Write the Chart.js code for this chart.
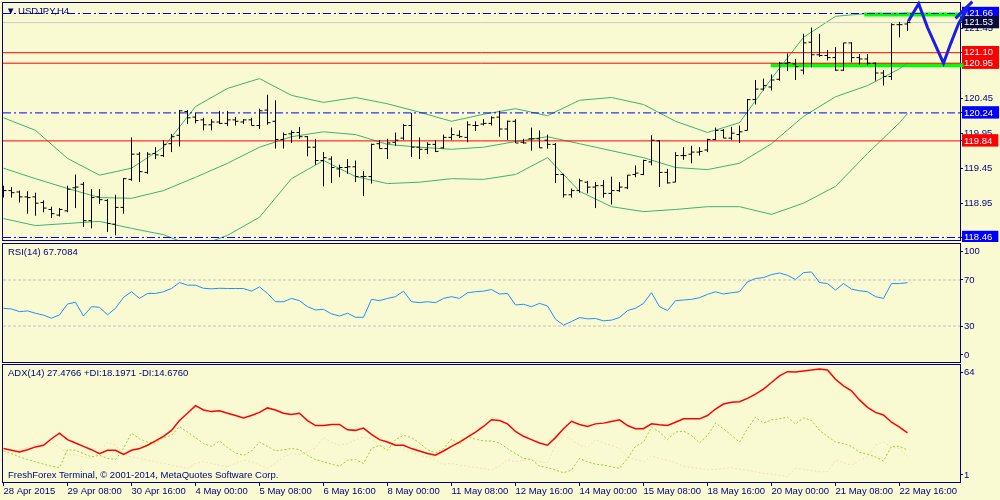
<!DOCTYPE html>
<html>
<head>
<meta charset="utf-8">
<script src="https://cdn.jsdelivr.net/npm/chart.js@4.4.1/dist/chart.umd.min.js"></script>
<style>
  html, body { margin: 0; padding: 0; background: #FAFAD2; }
  #wrap { position: relative; width: 1000px; height: 500px; overflow: hidden; font-family: "Liberation Sans", Arial, sans-serif; }
  canvas { position: absolute; left: 0; }
  .label { position: absolute; font-size: 9.5px; line-height: 12px; color: #000080; white-space: nowrap; }
</style>
</head>
<body>
<div id="wrap">
  <canvas id="price" width="1000" height="242" style="top:0"></canvas>
  <canvas id="rsi" width="1000" height="121" style="top:242px"></canvas>
  <canvas id="adx" width="1000" height="137" style="top:363px"></canvas>
  <div class="label" style="left:6px;top:5px">▼ USDJPY,H4</div>
  <div class="label" style="left:8px;top:246px">RSI(14) 67.7084</div>
  <div class="label" style="left:8px;top:367px">ADX(14) 27.4766 +DI:18.1971 -DI:14.6760</div>
  <div class="label" style="left:8px;top:469px">FreshForex Terminal, © 2001-2014, MetaQuotes Software Corp.</div>
</div>
<script>
// USDJPY H4 bars, 28 Apr 00:00 .. 22 May 20:00 (one entry per bar)
const opens = [119.14,119.13,119.11,119.04,119.04,118.96,118.86,118.78,118.84,119.17,
  119.22,118.70,119.04,118.99,118.65,118.89,119.29,119.65,119.39,119.66,
  119.63,119.80,119.92,120.26,120.18,120.14,120.07,120.11,120.09,120.14,
  120.11,120.14,120.06,120.28,120.12,119.86,119.94,119.96,119.90,119.75,
  119.56,119.58,119.44,119.46,119.47,119.33,119.33,119.80,119.73,119.82,
  119.88,120.06,119.75,119.72,119.79,119.74,119.89,119.92,119.89,120.06,
  120.08,120.09,120.18,120.01,120.12,119.82,119.87,119.87,119.85,119.79,
  119.36,119.07,119.13,119.25,119.18,119.20,119.09,119.13,119.17,119.36,
  119.36,119.54,119.84,119.39,119.25,119.63,119.65,119.68,119.71,119.86,
  119.99,119.88,119.93,119.99,120.43,120.58,120.61,120.72,120.95,120.94,
  120.85,121.25,121.07,121.06,121.03,120.85,121.24,121.03,121.01,120.95,
  120.81,120.76,121.50,121.51];
const highs = [119.20,119.18,119.13,119.12,119.10,118.99,118.90,118.88,119.20,119.36,
  119.25,119.15,119.15,119.01,119.07,119.31,119.89,119.68,119.68,119.75,
  119.85,119.94,120.28,120.28,120.24,120.17,120.15,120.27,120.27,120.18,
  120.15,120.17,120.30,120.50,120.42,119.96,119.99,120.04,119.91,119.87,
  119.68,119.62,119.50,119.58,119.56,119.41,119.80,119.85,119.87,119.96,
  120.08,120.24,119.89,119.82,119.85,119.93,120.03,119.99,120.12,120.12,
  120.15,120.19,120.27,120.13,120.15,119.87,120.03,119.99,119.93,119.81,
  119.37,119.16,119.30,119.27,119.25,119.28,119.33,119.25,119.35,119.49,
  119.57,119.92,119.85,119.44,119.68,119.75,119.77,119.75,119.87,120.03,
  120.01,120.04,120.06,120.44,120.71,120.73,120.79,120.97,121.09,121.01,
  121.37,121.46,121.37,121.14,121.18,121.24,121.25,121.08,121.08,120.96,
  120.85,121.52,121.54,121.55];
const lows = [119.03,119.03,118.96,118.80,118.77,118.82,118.74,118.76,118.82,118.88,
  118.61,118.59,118.94,118.54,118.49,118.80,119.27,119.25,119.37,119.58,
  119.61,119.68,119.76,120.08,120.09,119.99,119.99,120.08,120.05,120.06,
  120.08,120.06,120.01,120.07,119.73,119.73,119.81,119.87,119.62,119.50,
  119.19,119.24,119.32,119.37,119.25,119.05,119.23,119.73,119.58,119.77,
  119.85,119.61,119.58,119.65,119.68,119.73,119.85,119.88,119.82,119.98,
  120.06,120.06,119.90,119.85,119.81,119.80,119.70,119.74,119.73,119.24,
  119.03,119.03,119.10,119.09,118.88,119.03,118.93,119.11,119.15,119.32,
  119.35,119.49,119.18,119.23,119.25,119.57,119.52,119.63,119.68,119.85,
  119.88,119.85,119.81,119.99,120.36,120.56,120.56,120.70,120.84,120.71,
  120.79,120.89,121.04,120.99,120.84,120.84,120.96,120.93,120.92,120.70,
  120.63,120.71,121.32,121.41];
const closes = [119.13,119.10,119.04,119.03,118.95,118.88,118.80,118.86,119.15,119.18,
  118.70,119.03,119.00,118.66,118.89,119.30,119.65,119.40,119.65,119.64,
  119.79,119.90,120.27,120.17,120.13,120.07,120.11,120.09,120.14,120.12,
  120.14,120.06,120.27,120.10,119.86,119.93,119.96,119.90,119.75,119.56,
  119.60,119.46,119.46,119.47,119.33,119.33,119.79,119.73,119.81,119.85,
  120.06,119.75,119.72,119.79,119.69,119.89,119.93,119.90,120.07,120.06,
  120.09,120.17,120.01,120.12,119.81,119.81,119.87,119.74,119.79,119.36,
  119.07,119.13,119.27,119.18,119.20,119.09,119.13,119.18,119.35,119.38,
  119.56,119.85,119.39,119.24,119.63,119.63,119.68,119.69,119.86,119.99,
  119.88,119.95,119.97,120.43,120.58,120.63,120.71,120.95,120.96,120.90,
  121.24,121.07,121.06,121.03,120.85,121.24,121.03,121.01,120.95,120.81,
  120.76,121.50,121.50,121.53];

// Bollinger bands read every 4th bar
const bandIndex = [0,4,8,12,16,20,24,28,32,36,40,44,48,52,56,60,64,68,72,76,80,84,88,92,96,100,104,108,112,113];
const bbUpper = [120.17,119.99,119.59,119.35,119.45,119.75,120.33,120.59,120.73,120.49,120.39,120.46,120.37,120.25,120.12,
  120.22,120.30,120.20,120.42,120.46,120.36,120.12,119.96,120.10,120.73,121.32,121.62,121.66,121.65,121.67];
const bbMiddle = [119.45,119.30,119.16,119.03,119.02,119.13,119.32,119.52,119.75,119.90,119.97,119.93,119.79,119.75,119.72,
  119.75,119.83,119.90,119.80,119.70,119.60,119.46,119.43,119.52,119.80,120.19,120.47,120.63,120.87,120.95];
const bbLower = [118.73,118.63,118.66,118.69,118.59,118.50,118.32,118.49,118.75,119.30,119.56,119.33,119.23,119.25,119.30,
  119.29,119.36,119.60,119.12,118.90,118.83,118.86,118.90,118.90,118.79,118.95,119.19,119.66,120.10,120.23];

const rsiValues = [45.4,44.8,42.5,43.1,41.1,39.4,36.8,39.7,49.1,50.6,
  38.7,46.8,46.3,39.7,45.4,54.9,59.8,54.0,58.3,58.3,
  59.8,62.6,67.8,65.5,65.5,62.8,62.3,62.8,62.6,62.6,
  62.6,60.3,64.0,58.3,51.1,51.1,54.0,52.0,46.8,43.9,
  44.5,40.5,38.7,41.1,37.6,37.6,53.2,52.0,54.0,55.5,
  60.3,51.1,50.3,51.1,50.3,54.0,55.5,54.0,58.9,59.8,
  60.3,61.7,57.8,58.3,48.3,48.9,46.8,49.7,47.4,35.9,
  30.8,33.9,37.4,36.2,36.5,34.5,35.1,37.4,43.4,45.4,
  49.7,58.9,46.8,43.4,52.0,52.6,53.2,54.6,57.5,59.8,
  57.8,58.9,59.8,68.4,71.3,72.1,74.7,76.1,74.1,70.4,
  76.4,77.0,67.8,66.9,61.2,66.9,62.1,60.6,59.8,55.5,
  54.0,66.9,66.9,67.7];

const adxValues = [19.0,18.1,17.2,18.4,19.9,20.8,24.3,27.3,23.8,22.0,
  20.2,18.4,16.3,18.1,18.1,15.9,18.1,19.0,20.8,23.1,
  25.6,28.8,34.1,38.0,42.1,39.8,38.9,39.4,38.0,36.8,
  35.5,36.8,38.5,40.9,39.8,38.0,37.3,38.0,34.1,31.4,
  31.4,32.0,32.0,29.1,28.8,30.0,26.6,23.8,22.5,20.8,
  20.8,19.0,17.7,16.3,15.4,17.7,20.2,22.5,25.2,27.9,
  30.9,34.5,34.1,32.3,28.2,25.6,23.8,22.0,20.8,24.9,
  29.7,33.7,32.0,30.9,32.3,32.7,33.6,34.5,31.4,29.7,
  29.7,32.3,31.8,31.4,33.2,35.0,35.0,35.0,36.8,40.3,
  43.0,43.9,44.2,46.0,48.3,51.0,54.6,58.1,60.4,60.2,
  60.8,61.3,61.9,61.3,56.3,52.8,50.1,45.2,41.2,38.5,
  37.1,33.2,30.5,27.5];
const plusDI = [17.7,16.3,14.5,13.1,11.9,10.6,9.5,8.8,18.4,18.1,
  16.3,14.5,15.4,13.7,13.1,19.0,27.3,24.3,22.5,22.0,
  24.9,26.1,30.9,27.9,24.9,21.7,20.2,23.1,19.5,16.6,
  15.4,17.7,22.5,20.2,17.7,18.4,19.0,18.4,15.4,13.1,
  11.9,10.6,9.5,12.7,13.1,11.0,19.0,20.8,18.1,23.8,
  26.1,24.9,22.0,18.4,16.6,19.0,24.1,21.3,25.2,24.1,
  23.1,23.1,22.0,19.0,16.3,13.7,13.1,9.5,8.8,7.4,
  6.0,7.4,13.7,11.9,10.6,10.1,9.2,8.3,13.7,20.2,
  22.5,30.5,27.9,23.8,27.9,28.4,26.1,22.0,26.1,32.7,
  29.7,26.1,22.5,29.7,35.9,32.7,34.5,35.0,35.9,32.3,
  35.5,34.1,28.8,25.6,22.5,21.7,20.2,17.0,15.9,14.5,
  12.3,20.2,20.2,18.2];
const minusDI = [16.3,15.4,18.1,19.5,20.8,21.3,22.5,19.5,16.3,15.4,
  14.5,13.7,17.2,22.5,20.8,16.3,14.5,13.7,12.7,11.9,
  11.0,10.1,9.2,8.3,11.0,11.9,11.0,10.1,9.2,11.0,
  12.7,11.9,10.1,8.3,11.0,14.5,16.3,15.9,17.2,19.5,
  24.9,22.5,20.8,21.7,23.8,25.2,24.1,20.8,19.9,22.0,
  18.4,17.2,15.4,14.5,12.7,10.6,11.0,10.1,9.5,8.8,
  8.3,7.4,9.5,13.1,11.9,12.7,13.1,11.9,11.4,20.8,
  26.1,23.8,20.8,19.5,23.8,22.0,20.8,19.0,14.5,13.1,
  11.9,15.0,13.7,12.7,11.4,9.5,8.8,8.3,7.4,7.8,
  8.3,8.8,7.8,7.4,6.5,5.6,5.3,4.7,3.8,8.3,
  7.8,7.1,6.5,6.5,12.7,11.4,10.1,12.7,14.5,20.8,
  22.5,19.9,19.0,14.7];

const xTickIndex = [0,8,16,24,32,40,48,56,64,72,80,88,96,104,112];
const xTickLabels = ['28 Apr 2015','29 Apr 08:00','30 Apr 16:00','4 May 00:00','5 May 08:00','6 May 16:00',
  '8 May 00:00','11 May 08:00','12 May 16:00','14 May 00:00','15 May 08:00','18 May 16:00',
  '20 May 00:00','21 May 08:00','22 May 16:00'];

const priceTicks = [121.45, 120.45, 119.95, 119.45, 118.95];
const levelPrices = [121.66, 121.53, 121.10, 120.95, 120.24, 119.84, 118.46];
const levelKinds = ['blue', 'bid', 'red', 'red', 'blue', 'red', 'blue'];
const rsiLevels = [70, 30];
const rsiTickValues = [100, 70, 30, 0];
const adxTickValues = [64, 1];

// drawn objects: support zones and the forecast sketch
const zoneStart = [107.6, 95.9];
const zoneEnd = [119.8, 120.0];
const zonePrice = [121.645, 120.92];
const sketchX = [113.1, 114.4, 115.5, 116.25, 117.5, 118.4, 119.4, 120.5, 121.3];
const sketchY = [121.55, 121.80, 121.46, 121.27, 120.95, 121.23, 121.52, 121.73, 121.86];
const sketch2X = [119.0, 121.1];
const sketch2Y = [121.59, 121.83];

const navy = '#000080';
const FONT = { family: 'Liberation Sans', size: 9.5 };
const X_MIN = -0.0625, X_MAX = 119.5625;
const TICK = 3 / 8;
const levelColor = { blue: '#0000FF', red: '#FF0000', bid: '#C8C8C8' };
const boxColor = { blue: '#0000FF', red: '#FF0000', bid: '#0A0A3A' };

function line(data, color, width, extra) {
    return Object.assign({
        data: data, borderColor: color, borderWidth: width,
        pointRadius: 0, tension: 0, fill: false
    }, extra || {});
}
const series = values => values.map((v, i) => ({ x: i, y: v }));
const pairs = (xs, ys) => xs.map((x, i) => ({ x: x, y: ys[i] }));
const hline = y => [{ x: X_MIN, y: y }, { x: X_MAX, y: y }];

function fitRight(scale) {
    scale.width = 40;
    scale.paddingTop = 0;
    scale.paddingBottom = 0;
}

function inside(v, min, max) {
    const m = (max - min) * 0.06;
    return Math.min(max - m, Math.max(min + m, v));
}

function xScale(show) {
    const s = {
        type: 'linear', min: X_MIN, max: X_MAX, display: show,
        afterBuildTicks: scale => { scale.ticks = xTickIndex.map(v => ({ value: v })); },
        ticks: {
            autoSkip: false, maxRotation: 0, align: 'start', padding: 0,
            color: navy, font: FONT, callback: (v, i) => xTickLabels[i]
        },
        grid: { drawOnChartArea: false, drawTicks: true, tickLength: 4, color: navy },
        border: { display: false }
    };
    if (show) {
        s.afterFit = scale => { scale.height = 18; scale.paddingLeft = 0; scale.paddingRight = 0; };
    }
    return s;
}

function indicatorY(min, max, values) {
    return {
        position: 'right', min: min, max: max,
        afterBuildTicks: scale => { scale.ticks = values.map(v => ({ value: inside(v, min, max) })); },
        afterFit: fitRight,
        ticks: { autoSkip: false, padding: 1, color: navy, font: FONT, callback: (v, i) => String(values[i]) },
        grid: { drawOnChartArea: false, tickLength: 3, color: navy },
        border: { display: false }
    };
}

const framePlugin = {
    id: 'frame',
    beforeDatasetsDraw(chart) {
        const { ctx, chartArea: a } = chart;
        ctx.save();
        ctx.strokeStyle = navy;
        ctx.lineWidth = 1;
        ctx.strokeRect(a.left - 0.5, a.top - 0.5, a.right - a.left + 1, a.bottom - a.top + 1);
        ctx.restore();
    }
};

const common = {
    responsive: false,
    animation: false,
    events: [],
    plugins: { legend: { display: false }, tooltip: { enabled: false } }
};

// ---- price panel ----
const barPoints = [];
opens.forEach((o, i) => {
    barPoints.push(
        { x: i, y: lows[i] }, { x: i, y: highs[i] }, { x: i, y: null },
        { x: i - TICK, y: o }, { x: i, y: o }, { x: i, y: null },
        { x: i, y: closes[i] }, { x: i + TICK, y: closes[i] }, { x: i, y: null }
    );
});

const priceSets = [];
zonePrice.forEach((p, k) => {
    priceSets.push(line([{ x: zoneStart[k], y: p }, { x: zoneEnd[k], y: p }], '#00FF00', 4, { order: 6, clip: false }));
});
[bbUpper, bbMiddle, bbLower].forEach(band => {
    priceSets.push(line(pairs(bandIndex, band), '#3CB371', 1, { order: 5 }));
});
levelPrices.forEach((p, k) => {
    const kind = levelKinds[k];
    priceSets.push(line(hline(p), levelColor[kind], 1, {
        order: 4, borderDash: kind === 'blue' ? [8, 3, 2, 3] : []
    }));
});
priceSets.push(line(barPoints, '#000000', 1, { order: 2, spanGaps: false }));
priceSets.push(line(pairs(sketchX, sketchY), '#1C1CE8', 3, { order: 1, clip: false }));
priceSets.push(line(pairs(sketch2X, sketch2Y), '#1C1CE8', 3, { order: 1, clip: false }));

const levelIndex = v => levelPrices.findIndex(p => Math.abs(p - v) < 1e-6);

new Chart(document.getElementById('price'), {
    type: 'line',
    data: { datasets: priceSets },
    plugins: [framePlugin],
    options: Object.assign({}, common, {
        layout: { padding: { left: 3, top: 3, right: 0, bottom: 2 } },
        scales: {
            x: xScale(false),
            y: {
                position: 'right', min: 118.424, max: 121.81,
                afterBuildTicks: scale => {
                    scale.ticks = priceTicks.concat(levelPrices).map(v => ({ value: v }));
                },
                afterFit: fitRight,
                ticks: {
                    autoSkip: false, padding: 1, font: FONT,
                    callback: v => v.toFixed(2),
                    color: c => levelIndex(c.tick.value) >= 0 ? '#FFFFFF' : navy,
                    showLabelBackdrop: true,
                    backdropPadding: { left: 2, right: 6, top: 1, bottom: 0 },
                    backdropColor: c => {
                        const k = levelIndex(c.tick.value);
                        return k >= 0 ? boxColor[levelKinds[k]] : 'rgba(0,0,0,0)';
                    }
                },
                grid: { drawOnChartArea: false, tickLength: 3, color: navy },
                border: { display: false }
            }
        }
    })
});

// ---- RSI panel ----
const rsiSets = rsiLevels.map(v => line(hline(v), '#C0C0C0', 1, { borderDash: [3, 2], order: 3 }));
rsiSets.push(line(series(rsiValues), '#1E90FF', 1, { order: 1 }));

new Chart(document.getElementById('rsi'), {
    type: 'line',
    data: { datasets: rsiSets },
    plugins: [framePlugin],
    options: Object.assign({}, common, {
        layout: { padding: { left: 3, top: 2, right: 0, bottom: 1 } },
        scales: { x: xScale(false), y: indicatorY(-1.3, 101.3, rsiTickValues) }
    })
});

// ---- ADX panel ----
new Chart(document.getElementById('adx'), {
    type: 'line',
    data: {
        datasets: [
            line(series(minusDI), '#F5DEB3', 1, { borderDash: [2, 2], order: 3 }),
            line(series(plusDI), '#9ACD32', 1, { borderDash: [2, 2], order: 2 }),
            line(series(adxValues), '#FF0000', 1.5, { order: 1 })
        ]
    },
    plugins: [framePlugin],
    options: Object.assign({}, common, {
        layout: { padding: { left: 3, top: 2, right: 0, bottom: 0 } },
        scales: { x: xScale(true), y: indicatorY(1, 64, adxTickValues) }
    })
});
</script>
</body>
</html>
